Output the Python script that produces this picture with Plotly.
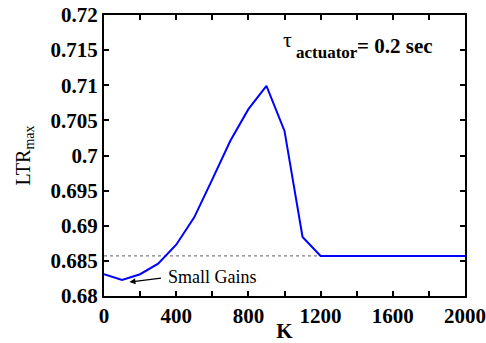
import plotly.graph_objects as go

K = [0, 100, 200, 300, 400, 500, 600, 700, 800, 900, 1000, 1100, 1200, 1300, 1400, 1500, 1600, 1700, 1800, 1900, 2000]
LTR = [0.6831, 0.6823, 0.6831, 0.6846, 0.6873, 0.6912, 0.6966, 0.7021, 0.7066, 0.7099, 0.7035, 0.6884, 0.6857,
       0.6857, 0.6857, 0.6857, 0.6857, 0.6857, 0.6857, 0.6857, 0.6857]
ref_K = [0, 1200]
ref_LTR = [0.6857, 0.6857]

x_ticks = [0, 400, 800, 1200, 1600, 2000]
y_ticks = [0.68, 0.685, 0.69, 0.695, 0.7, 0.705, 0.71, 0.715, 0.72]
y_labels = ["0.68", "0.685", "0.69", "0.695", "0.7", "0.705", "0.71", "0.715", "0.72"]

SERIF = "Liberation Serif"

fig = go.Figure()
fig.add_trace(go.Scatter(x=ref_K, y=ref_LTR, mode="lines",
                         line=dict(color="#808080", width=1.3, dash="dot"), showlegend=False))
fig.add_trace(go.Scatter(x=K, y=LTR, mode="lines",
                         line=dict(color="#0000ff", width=2), showlegend=False))

# arrow + label
fig.add_annotation(x=141, y=0.68199, ax=324, ay=0.68256, xref="x", yref="y", axref="x", ayref="y",
                   text="", showarrow=True, arrowhead=2, arrowsize=1, arrowwidth=1.2, arrowcolor="black")
fig.add_annotation(x=346, y=0.68275, xref="x", yref="y", text="Small Gains", showarrow=False,
                   xanchor="left", yanchor="middle",
                   font=dict(family=SERIF, size=18, color="black"))
# tau_actuator = 0.2 sec
fig.add_annotation(x=983, y=0.71651, xref="x", yref="y", text="τ", showarrow=False,
                   xanchor="left", yanchor="middle", font=dict(family=SERIF, size=22, color="black"))
fig.add_annotation(x=1050, y=0.71471, xref="x", yref="y", text="<b>actuator</b>", showarrow=False,
                   xanchor="left", yanchor="middle", font=dict(family=SERIF, size=17, color="black"))
fig.add_annotation(x=1393, y=0.71560, xref="x", yref="y", text="<b>= 0.2 sec</b>", showarrow=False,
                   xanchor="left", yanchor="middle", font=dict(family=SERIF, size=21, color="black"))

axis_common = dict(showline=True, linecolor="black", linewidth=2, mirror="ticks",
                   ticks="inside", ticklen=5, tickwidth=1.5, tickcolor="black",
                   showgrid=False, zeroline=False, automargin=False, ticklabeloverflow="allow",
                   tickfont=dict(family=SERIF, size=21, color="black"))

fig.update_xaxes(range=[0, 2000], tickvals=x_ticks, ticktext=["<b>%d</b>" % v for v in x_ticks],
                 minor=dict(dtick=200, tick0=0, ticks="inside", ticklen=5, tickcolor="black", tickwidth=1.5),
                 title=dict(text="<b>K</b>", standoff=0,
                            font=dict(family=SERIF, size=21, color="black")),
                 **axis_common)
fig.update_yaxes(range=[0.68, 0.72], tickvals=y_ticks, ticktext=["<b>%s</b>" % s for s in y_labels],
                 title=dict(text="LTR<sub>max</sub>", standoff=15,
                            font=dict(family=SERIF, size=20, color="black")),
                 **axis_common)

fig.update_layout(width=486, height=343, margin=dict(l=104, r=21, t=15, b=47),
                  plot_bgcolor="white", paper_bgcolor="white",
                  font=dict(family=SERIF))

# remove the browser's default 8px body margin so the figure fills the window
fig.write_html("out.html", config={"displayModeBar": False},
               post_script="document.body.style.margin='0px';")
